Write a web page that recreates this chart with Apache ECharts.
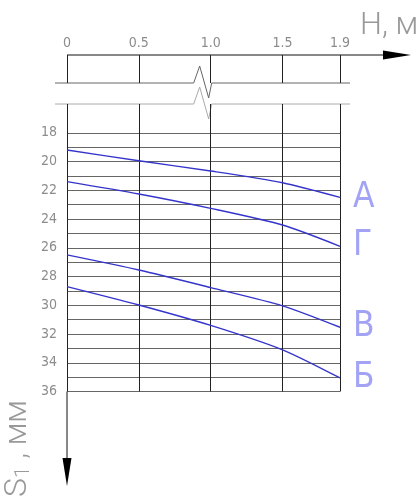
<!DOCTYPE html>
<html>
<head>
<meta charset="utf-8">
<script src="https://cdn.jsdelivr.net/npm/echarts@6/dist/echarts.min.js"></script>
<style>html,body{margin:0;padding:0;background:#fff}#c{width:418px;height:496px}</style>
</head>
<body>
<div id="c"></div>
<script>
// ---- data ----
var H = [0, 0.5, 1.0, 1.5, 1.9];
var xTicks = [0, 0.5, 1.0, 1.5, 1.9];
var xTickLabels = ['0', '0.5', '1.0', '1.5', '1.9'];
var yGridValues = [18,19,20,21,22,23,24,25,26,27,28,29,30,31,32,33,34,35,36];
var curveNames = ['А', 'Г', 'В', 'Б'];
var sA = [19.2, 19.95, 20.66, 21.48, 22.5];
var sG = [21.4, 22.26, 23.26, 24.42, 25.9];
var sV = [26.5, 27.55, 28.77, 30.04, 31.53];
var sB = [28.7, 29.98, 31.4, 33.1, 35.06];
var xTitle = 'H, м';

var NARROW = '"Liberation Sans Narrow", "DejaVu Sans Condensed", "Roboto Condensed", sans-serif';
var LIGHT = 'Roboto, "Open Sans", sans-serif';
var labelGray = '#8c8c8c';
var curveColor = '#3535cc';
var letterColor = '#a3a3f5';

function pairs(ys) { return H.map(function (h, i) { return [h, ys[i]]; }); }

var chart = echarts.init(document.getElementById('c'), null, {renderer: 'canvas'});

var curveSeries = [sA, sG, sV, sB].map(function (ys, i) {
  return {
    type: 'line', name: curveNames[i], xAxisIndex: 0, yAxisIndex: 0,
    data: pairs(ys), smooth: 0.25, showSymbol: false, symbol: 'none',
    lineStyle: {color: curveColor, width: 1.4}, z: 5,
    endLabel: {show: true, formatter: '{a}', color: letterColor, fontSize: 35,
      fontFamily: NARROW, distance: 13}
  };
});

var gridSeries = {
  type: 'line', xAxisIndex: 0, yAxisIndex: 0, data: [], silent: true, z: 2,
  markLine: {
    silent: true, symbol: ['none', 'none'], label: {show: false}, animation: false,
    data: yGridValues.map(function (v) {
      return {yAxis: v, lineStyle: {color: '#666', width: 1, type: 'solid'}};
    }).concat(xTicks.map(function (v) {
      return {xAxis: v, lineStyle: {color: '#222', width: 1, type: 'solid'}};
    }))
  }
};
var topSeries = {
  type: 'line', xAxisIndex: 1, yAxisIndex: 1, data: [], silent: true,
  markLine: {
    silent: true, symbol: ['none', 'none'], label: {show: false}, animation: false,
    data: xTicks.map(function (v) {
      return {xAxis: v, lineStyle: {color: '#222', width: 1, type: 'solid'}};
    })
  }
};

chart.setOption({
  animation: false,
  backgroundColor: '#fff',
  grid: [
    {left: 67, width: 273, top: 104, height: 287.5},
    {left: 67, width: 273, top: 55, height: 28}
  ],
  xAxis: [
    {gridIndex: 0, type: 'value', min: 0, max: 1.9, show: false},
    {gridIndex: 1, type: 'value', min: 0, max: 1.9, position: 'top',
      axisLine: {show: false}, axisTick: {show: false}, splitLine: {show: false},
      axisLabel: {customValues: xTicks, margin: 5, color: labelGray, fontSize: 14, fontFamily: NARROW,
        formatter: function (v) { var i = xTicks.indexOf(v); return i >= 0 ? xTickLabels[i] : ''; }}}
  ],
  yAxis: [
    {gridIndex: 0, type: 'value', min: 16, max: 36, interval: 2, inverse: true,
      axisLine: {show: false}, axisTick: {show: false}, splitLine: {show: false},
      axisLabel: {margin: 10, color: labelGray, fontSize: 14, fontFamily: NARROW,
        formatter: function (v) { return v >= 18 ? String(v) : ''; }}},
    {gridIndex: 1, type: 'value', min: 0, max: 1, show: false}
  ],
  series: [gridSeries, topSeries].concat(curveSeries)
});

// decorations (axes arrows, break lines, titles), positioned from the scales
var p0top = chart.convertToPixel({gridIndex: 1}, [xTicks[0], 1]);
var p0bot = chart.convertToPixel({gridIndex: 1}, [xTicks[0], 0]);
var pEnd = chart.convertToPixel({gridIndex: 1}, [xTicks[xTicks.length - 1], 1]);
var pMid = chart.convertToPixel({gridIndex: 1}, [1.0, 0]);
var pLowTop = chart.convertToPixel({gridIndex: 0}, [0, 16]);
var pYEnd = chart.convertToPixel({gridIndex: 0}, [0, 36]);

var axY = p0top[1], x0 = p0top[0];
var b1 = p0bot[1], b2 = pLowTop[1];
var xm = pMid[0];
var bl = x0 - 12, br = pEnd[0] + 10;
function breakPts(y) {
  return [[bl, y], [xm - 17, y], [xm - 11, y - 17], [xm - 2, y + 15], [xm + 1, y], [br, y]];
}
var arrowX = 383, arrowTip = 411;
var ax = pYEnd[0], ay0 = pYEnd[1], aTipY = 486, aBaseY = 458;

chart.setOption({
  graphic: [
    {type: 'line', shape: {x1: x0, y1: axY, x2: arrowX, y2: axY}, style: {stroke: '#111', lineWidth: 1}},
    {type: 'polygon', shape: {points: [[arrowX, axY - 4.5], [arrowTip, axY], [arrowX, axY + 4.5]]}, style: {fill: '#000'}},
    {type: 'polyline', shape: {points: breakPts(b1)}, style: {stroke: '#666', lineWidth: 1, fill: null}},
    {type: 'polyline', shape: {points: breakPts(b2)}, style: {stroke: '#aaa', lineWidth: 1, fill: null}},
    {type: 'line', shape: {x1: ax, y1: ay0, x2: ax, y2: aBaseY}, style: {stroke: '#111', lineWidth: 1}},
    {type: 'polygon', shape: {points: [[ax - 4.5, aBaseY], [ax, aTipY], [ax + 4.5, aBaseY]]}, style: {fill: '#000'}},
    {type: 'text', x: 360, y: 11, style: {text: xTitle, fill: '#999', font: '300 31px ' + LIGHT, textAlign: 'left', textVerticalAlign: 'top'}},
    {type: 'text', x: 34, y: 497, rotation: Math.PI / 2,
      style: {text: '{s|S}{n|1} , мм', textAlign: 'left', textVerticalAlign: 'bottom', fill: '#999',
        rich: {s: {fontSize: 32, fontFamily: LIGHT, fontWeight: 300, fill: '#999'},
               n: {fontSize: 21, fontFamily: LIGHT, fontWeight: 300, fill: '#999', verticalAlign: 'bottom'}},
        font: '300 31px ' + LIGHT}}
  ]
});
</script>
</body>
</html>
